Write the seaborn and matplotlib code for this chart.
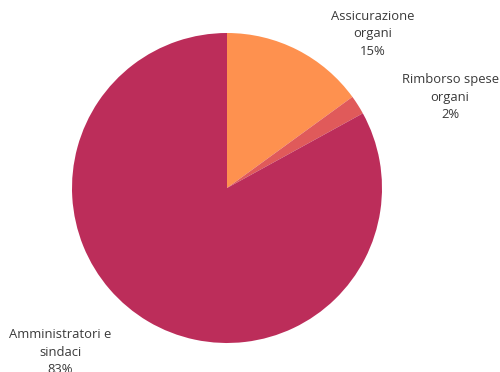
import matplotlib
matplotlib.use("Agg")
import matplotlib.pyplot as plt
import seaborn as sns

categories = ["Assicurazione\norgani", "Rimborso spese\norgani", "Amministratori e\nsindaci"]
values = [15, 2, 83]
colors_hex = ["#FE914F", "#E05A5A", "#BC2D5A"]

sns.set_theme(style="white")
plt.rcParams['font.family'] = ['Open Sans', 'DejaVu Sans']

W, H = 500, 372
fig = plt.figure(figsize=(W / 100, H / 100), dpi=100)
cx, cy, r = 227, 188, 155
ax = fig.add_axes([(cx - r) / W, (H - cy - r) / H, 2 * r / W, 2 * r / H])
palette = sns.color_palette(colors_hex)
ax.pie(values, colors=palette, startangle=90, counterclock=False,
       wedgeprops=dict(linewidth=0), radius=1)
ax.set_xlim(-1, 1)
ax.set_ylim(-1, 1)
ax.set_aspect('equal')
ax.axis('off')

label_pos = [(373, 10), (450, 73), (60, 328)]
for cat, v, (x, y) in zip(categories, values, label_pos):
    fig.text(x / W, 1 - y / H, f"{cat}\n{v}%", ha='center', va='top',
             fontsize=9.4, color='#3a3a3a', linespacing=1.45)

fig.savefig("out.png", dpi=100)
